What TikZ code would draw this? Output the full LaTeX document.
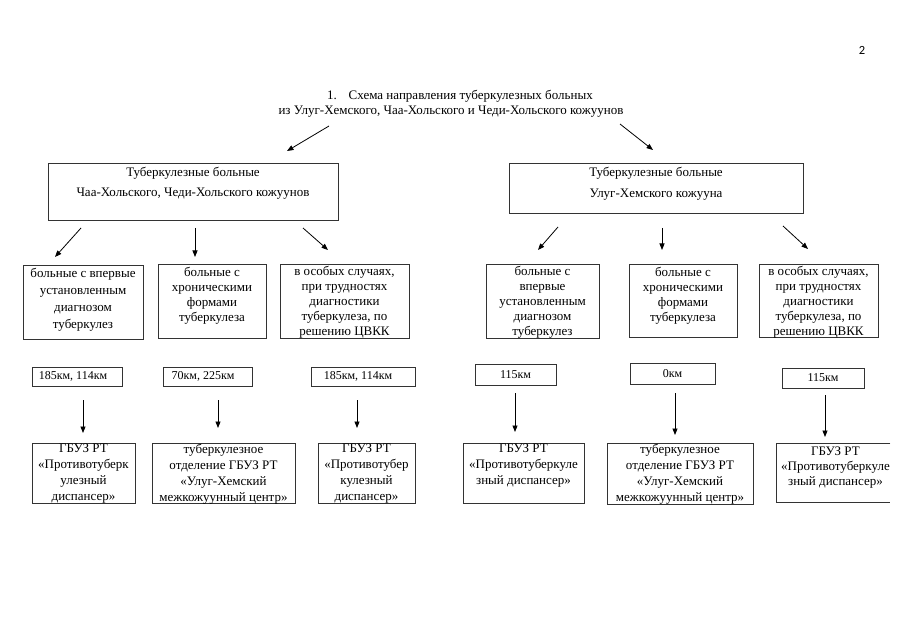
\documentclass[tikz,border=0pt]{standalone}
\usepackage{fontspec}
\setmainfont{Liberation Serif}
\newfontfamily\pagefont{Carlito}
\usetikzlibrary{arrows.meta}
\begin{document}
\begin{tikzpicture}[x=1pt,y=-1pt,
  frame/.style={draw=black!80, line width=0.7pt, inner sep=0pt, anchor=north west},
  txt/.style={inner sep=0pt, align=center, font=\fontsize{13}{15}\selectfont},
  kmtxt/.style={inner sep=0pt, align=center, font=\fontsize{12}{14}\selectfont},
  arr/.style={-{Triangle[length=6.5pt,width=5pt]}, line width=0.8pt},
]
\useasboundingbox (0,0) rectangle (905,636);
\fill[white] (0,0) rectangle (905,636);

% page number and title
\node[inner sep=0pt, font=\pagefont\fontsize{12.5}{14}\selectfont] (pg) at (862,50) {2};
\node[txt] (t1) at (460,96.5) {1.\hspace{0.9em}Схема направления туберкулезных больных};
\node[txt] (t2) at (451,111.5) {из Улуг-Хемского, Чаа-Хольского и Чеди-Хольского кожуунов};

% level 1
\node[frame, minimum width=290, minimum height=57] (L) at (48,163) {};
\node[txt, font=\fontsize{13}{20}\selectfont] (Lt) at (193,183) {Туберкулезные больные\\Чаа-Хольского, Чеди-Хольского кожуунов};
\node[frame, minimum width=294, minimum height=50] (R) at (509,163) {};
\node[txt, font=\fontsize{13}{21}\selectfont] (Rt) at (656,183.5) {Туберкулезные больные\\Улуг-Хемского кожууна};

% level 2
\node[frame, minimum width=120, minimum height=74] (A) at (23,265) {};
\node[txt, font=\fontsize{13}{17}\selectfont] (At) at (83,300) {больные с впервые\\установленным\\диагнозом\\туберкулез};
\node[frame, minimum width=108, minimum height=74] (B) at (158,264) {};
\node[txt] (Bt) at (212,296) {больные с\\хроническими\\формами\\туберкулеза};
\node[frame, minimum width=129, minimum height=74] (C) at (280,264) {};
\node[txt] (Ct) at (344.5,302) {в особых случаях,\\при трудностях\\диагностики\\туберкулеза, по\\решению ЦВКК};

\node[frame, minimum width=113, minimum height=74] (D) at (486,264) {};
\node[txt] (Dt) at (542.5,302.5) {больные с\\впервые\\установленным\\диагнозом\\туберкулез};
\node[frame, minimum width=108, minimum height=73] (E) at (629,264) {};
\node[txt] (Et) at (683,295.5) {больные с\\хроническими\\формами\\туберкулеза};
\node[frame, minimum width=119, minimum height=73] (F) at (759,264) {};
\node[txt] (Ft) at (818.5,302.5) {в особых случаях,\\при трудностях\\диагностики\\туберкулеза, по\\решению ЦВКК};

% distance boxes
\node[frame, minimum width=90, minimum height=19] (K1) at (32,367) {};
\node[kmtxt] (K1t) at (73,376.5) {185км, 114км};
\node[frame, minimum width=89, minimum height=19] (K2) at (163,367) {};
\node[kmtxt] (K2t) at (203,376.5) {70км, 225км};
\node[frame, minimum width=104, minimum height=19] (K3) at (311,367) {};
\node[kmtxt] (K3t) at (358,376.5) {185км, 114км};
\node[frame, minimum width=81, minimum height=21] (K4) at (475,364) {};
\node[kmtxt] (K4t) at (515.5,374.5) {115км};
\node[frame, minimum width=85, minimum height=21] (K5) at (630,363) {};
\node[kmtxt] (K5t) at (672.5,373.5) {0км};
\node[frame, minimum width=82, minimum height=20] (K6) at (782,368) {};
\node[kmtxt] (K6t) at (823,378) {115км};

% level 3
\node[frame, minimum width=103, minimum height=60] (G) at (32,443) {};
\node[txt, font=\fontsize{13}{16}\selectfont] (Gt) at (83.5,473.5) {ГБУЗ РТ\\«Противотуберк\\улезный\\диспансер»};
\node[frame, minimum width=143, minimum height=60] (H) at (152,443) {};
\node[txt, font=\fontsize{13}{16}\selectfont] (Ht) at (223.5,474) {туберкулезное\\отделение ГБУЗ РТ\\«Улуг-Хемский\\межкожуунный центр»};
\node[frame, minimum width=97, minimum height=60] (I) at (318,443) {};
\node[txt, font=\fontsize{13}{16}\selectfont] (It) at (366.5,473.5) {ГБУЗ РТ\\«Противотубер\\кулезный\\диспансер»};

\node[frame, minimum width=121, minimum height=60] (M) at (463,443) {};
\node[txt, font=\fontsize{13}{16}\selectfont] (Mt) at (523.5,465.5) {ГБУЗ РТ\\«Противотуберкуле\\зный диспансер»};
\node[frame, minimum width=146, minimum height=61] (N) at (607,443) {};
\node[txt, font=\fontsize{13}{16}\selectfont] (Nt) at (680,474) {туберкулезное\\отделение ГБУЗ РТ\\«Улуг-Хемский\\межкожуунный центр»};
\node[inner sep=0pt, anchor=north west, minimum width=114, minimum height=59] (O) at (776,443) {};
\draw[draw=black!80, line width=0.7pt] (O.north east) -- (O.north west) -- (O.south west) -- (O.south east);
\node[txt, font=\fontsize{13}{15}\selectfont] (Ot) at (835.5,467.5) {ГБУЗ РТ\\«Противотуберкуле\\зный диспансер»};

% arrow end points
\coordinate (a1s) at (329,126); \coordinate (a1e) at (287,151);
\coordinate (a2s) at (620,124); \coordinate (a2e) at (653,150);
\coordinate (b1s) at (81,228);  \coordinate (b1e) at (55,257);
\coordinate (b2s) at (195,228); \coordinate (b2e) at (195,257);
\coordinate (b3s) at (303,228); \coordinate (b3e) at (328,250);
\coordinate (b4s) at (558,227); \coordinate (b4e) at (538,250);
\coordinate (b5s) at (662,228); \coordinate (b5e) at (662,250);
\coordinate (b6s) at (783,226); \coordinate (b6e) at (808,249);
\coordinate (c1s) at (83,400);  \coordinate (c1e) at (83,433);
\coordinate (c2s) at (218,400); \coordinate (c2e) at (218,428);
\coordinate (c3s) at (357,400); \coordinate (c3e) at (357,428);
\coordinate (c4s) at (515,393); \coordinate (c4e) at (515,432);
\coordinate (c5s) at (675,393); \coordinate (c5e) at (675,435);
\coordinate (c6s) at (825,395); \coordinate (c6e) at (825,437);

\foreach \p in {a1,a2,b1,b2,b3,b4,b5,b6,c1,c2,c3,c4,c5,c6}
  \draw[arr] (\p s) -- (\p e);
\end{tikzpicture}
\end{document}
